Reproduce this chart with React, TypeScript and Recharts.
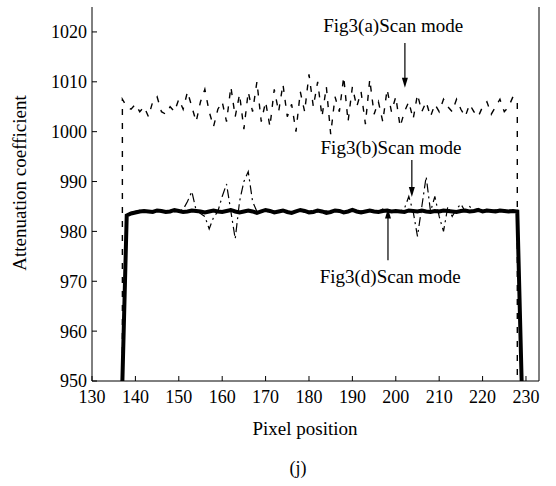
import { Line, LineChart, XAxis, YAxis, ReferenceLine, ReferenceDot, Label } from "recharts";

// pixel position ticks and attenuation ticks
const xTicks = [130, 140, 150, 160, 170, 180, 190, 200, 210, 220, 230];
const yTicks = [950, 960, 970, 980, 990, 1000, 1010, 1020];

// Fig3(a) scan mode, pixels 137..228
const posA = [137, 137, 138, 139, 140, 141, 142, 143, 144, 145, 146, 147, 148, 149, 150, 151, 152, 153, 154, 155, 156, 157, 158, 159, 160, 161, 162, 163, 164, 165, 166, 167, 168, 169, 170, 171, 172, 173, 174, 175, 176, 177, 178, 179, 180, 181, 182, 183, 184, 185, 186, 187, 188, 189, 190, 191, 192, 193, 194, 195, 196, 197, 198, 199, 200, 201, 202, 203, 204, 205, 206, 207, 208, 209, 210, 211, 212, 213, 214, 215, 216, 217, 218, 219, 220, 221, 222, 223, 224, 225, 226, 227, 228, 228];
const scanA = [950, 1006.5, 1005, 1004.5, 1005.5, 1004, 1005, 1003, 1006, 1007, 1004, 1003.5, 1005, 1004, 1006.5, 1004.5, 1008, 1005, 1002, 1006, 1008.5, 1004, 1001, 1004.5, 1006, 1002, 1009, 1003, 1007.5, 1000.5, 1008, 1004, 1010, 1002, 1006, 1001, 1008.5, 1004, 1009.5, 1003, 1005.5, 1000, 1008, 1004, 1011.5, 1005, 1010, 1003, 1009, 999.5, 1007, 1004, 1011, 1002, 1009, 1005, 1008, 1001.5, 1010.5, 1003.5, 1006, 1002, 1008.5, 1004, 1007, 1001, 1004, 1006, 1002.5, 1007.5, 1004, 1006, 1003, 1005.5, 1004, 1006.5, 1005, 1004, 1006.5, 1004.5, 1003, 1005.5, 1004, 1003, 1005, 1006, 1003.5, 1005, 1006.5, 1004, 1005, 1007, 1006, 950];

// Fig3(b) scan mode, pixels 137..229
const posB = [137, 138, 139, 140, 141, 142, 143, 144, 145, 146, 147, 148, 149, 150, 151, 152, 153, 154, 155, 156, 157, 158, 159, 160, 161, 162, 163, 164, 165, 166, 167, 168, 169, 170, 171, 172, 173, 174, 175, 176, 177, 178, 179, 180, 181, 182, 183, 184, 185, 186, 187, 188, 189, 190, 191, 192, 193, 194, 195, 196, 197, 198, 199, 200, 201, 202, 203, 204, 205, 206, 207, 208, 209, 210, 211, 212, 213, 214, 215, 216, 217, 218, 219, 220, 221, 222, 223, 224, 225, 226, 227, 228, 229];
const scanB = [950, 983, 983.8, 984, 984.2, 983.9, 984.1, 984, 984.3, 983.8, 984, 984.2, 983.9, 984, 984.4, 986, 988, 984.2, 983.6, 983, 980.5, 982.8, 984, 987, 989.5, 984, 978.5, 986, 990, 992, 986, 984, 984.2, 983.9, 984.1, 984, 983.8, 984.2, 984, 983.9, 984.1, 984.3, 983.8, 984, 984.2, 983.9, 984, 984.1, 983.8, 984, 984.3, 983.9, 984, 984.2, 983.8, 984.1, 984, 983.9, 984.2, 984, 984.5, 983.8, 984, 984.2, 984, 984.6, 987, 984, 979, 985, 991, 984, 987, 983, 980, 985, 983, 984.5, 985.5, 984, 985, 984.3, 984.6, 984, 984.4, 984.1, 984.3, 984, 984.2, 984.4, 984, 984.2, 950];

// Fig3(d) scan mode, pixels 137..229
const posD = posB;
const scanD = [950, 983.2, 983.6, 983.8, 984, 984.1, 984, 983.9, 984.2, 984.1, 983.9, 984, 984.3, 984.1, 983.9, 984, 984.2, 984.1, 984, 983.8, 984, 984.2, 984, 983.9, 984.1, 984.3, 984, 983.8, 984, 984.2, 984, 983.7, 984, 984.3, 984.1, 983.8, 984, 984.2, 983.9, 983.7, 984, 984.3, 984.1, 983.8, 983.9, 984.2, 984, 983.7, 983.9, 984.2, 984.1, 983.8, 984, 984.3, 984, 983.8, 984, 984.2, 984, 983.9, 984.1, 984.2, 984, 984.1, 984, 983.9, 984.2, 984.1, 984, 984.2, 984, 983.9, 984.1, 984, 984.2, 984.1, 984, 983.9, 984.1, 984.2, 984, 984.1, 984.3, 984, 984.2, 984.1, 984, 984.2, 984.1, 984, 984.1, 984, 950];

const toRows = (xs: number[], ys: number[]) => xs.map((x, i) => ({ x, y: ys[i] }));
const dataA = toRows(posA, scanA);
const dataB = toRows(posB, scanB);
const dataD = toRows(posD, scanD);

const FONT = "'Liberation Serif', 'Times New Roman', serif";
const tickStyle = { fontSize: 18, fill: "#000", fontFamily: FONT };

const noLabel = () => "";

function note(text: string) {
  return (props: any) => (
    <text x={props.cx} y={props.cy} dy="0.35em" textAnchor="middle" fontSize={19} fontFamily={FONT} fill="#000">
      {text}
    </text>
  );
}

function arrowHead(down: boolean) {
  return (props: any) => {
    const { cx, cy } = props;
    const by = down ? cy - 10 : cy + 10;
    return <polygon points={`${cx - 3},${by} ${cx + 3},${by} ${cx},${cy}`} fill="#000" />;
  };
}

export default function App() {
  return (
    <div style={{ position: "absolute", left: 0, top: 0, background: "#fff" }}>
      <LineChart width={556} height={486} margin={{ top: 7, right: 16, left: 0, bottom: 45 }}>
        <XAxis
          dataKey="x"
          type="number"
          domain={[130, 233]}
          ticks={xTicks}
          allowDataOverflow
          tick={tickStyle}
          tickSize={-5}
          tickMargin={14}
          height={60}
          axisLine={{ stroke: "#000" }}
          tickLine={{ stroke: "#000" }}
        >
          <Label
            content={() => (
              <g fontFamily={FONT} fill="#000">
                <text x={305} y={435} textAnchor="middle" fontSize={19}>Pixel position</text>
                <text x={298} y={474} textAnchor="middle" fontSize={18}>(j)</text>
              </g>
            )}
          />
        </XAxis>
        <XAxis
          xAxisId="top"
          orientation="top"
          dataKey="x"
          type="number"
          domain={[130, 233]}
          ticks={xTicks}
          tickFormatter={noLabel}
          tickSize={-5}
          height={0}
          axisLine={{ stroke: "#000" }}
          tickLine={{ stroke: "#000" }}
        />
        <YAxis
          type="number"
          domain={[950, 1025]}
          ticks={yTicks}
          allowDataOverflow
          tick={tickStyle}
          tickSize={-5}
          tickMargin={10}
          width={92}
          axisLine={{ stroke: "#000" }}
          tickLine={{ stroke: "#000" }}
        >
          <Label
            content={() => (
              <text x={19} y={183} transform="rotate(-90 19 183)" dy="0.35em" textAnchor="middle" fontSize={19} fontFamily={FONT} fill="#000">
                Attenuation coefficient
              </text>
            )}
          />
        </YAxis>
        <YAxis
          yAxisId="right"
          orientation="right"
          type="number"
          domain={[950, 1025]}
          ticks={yTicks}
          tickFormatter={noLabel}
          tickSize={-5}
          width={1}
          axisLine={{ stroke: "#000" }}
          tickLine={{ stroke: "#000" }}
        />

        <Line data={dataA} dataKey="y" type="linear" stroke="#000" strokeWidth={1.4} strokeDasharray="6 8" dot={false} isAnimationActive={false} />
        <Line data={dataB} dataKey="y" type="linear" stroke="#000" strokeWidth={1.2} strokeDasharray="9 4 2 4" dot={false} isAnimationActive={false} />
        <Line data={dataD} dataKey="y" type="linear" stroke="#000" strokeWidth={4} dot={false} isAnimationActive={false} />

        <ReferenceDot x={199.4} y={1021.4} r={0} shape={note("Fig3(a)Scan mode")} />
        <ReferenceLine segment={[{ x: 202.1, y: 1017.8 }, { x: 202.1, y: 1010.5 }]} stroke="#000" strokeWidth={1.2} />
        <ReferenceDot x={202.1} y={1008.8} r={0} shape={arrowHead(true)} />

        <ReferenceDot x={198.9} y={996.9} r={0} shape={note("Fig3(b)Scan mode")} />
        <ReferenceLine segment={[{ x: 203.7, y: 994.3 }, { x: 203.7, y: 988.5 }]} stroke="#000" strokeWidth={1.2} />
        <ReferenceDot x={203.7} y={986.9} r={0} shape={arrowHead(true)} />

        <ReferenceDot x={198.7} y={970.9} r={0} shape={note("Fig3(d)Scan mode")} />
        <ReferenceLine segment={[{ x: 198.2, y: 974.2 }, { x: 198.2, y: 983 }]} stroke="#000" strokeWidth={1.2} />
        <ReferenceDot x={198.2} y={984.6} r={0} shape={arrowHead(false)} />
      </LineChart>
    </div>
  );
}
